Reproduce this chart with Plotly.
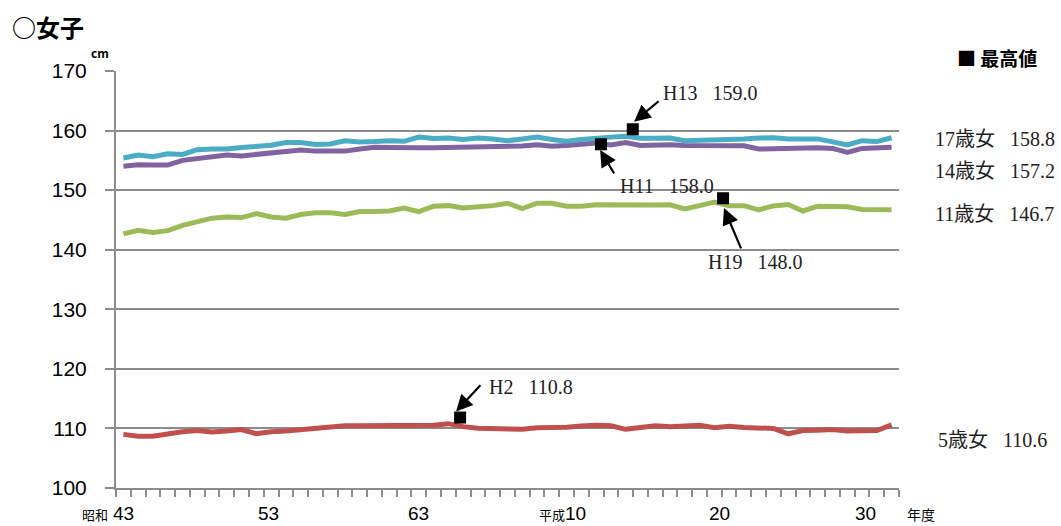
import plotly.graph_objects as go

years = list(range(1968, 2021))

h5 = [109.0, 108.7, 108.7, 109.15, 109.45, 109.65, 109.4, 109.55, 109.8, 109.1,
      109.45, 109.55, 109.8, 110.05, 110.35, 110.45, 110.45, 110.45, 110.35, 110.55,
      110.55, 110.55, 110.8, 110.3, 110.05, 110.0, 109.95, 109.85, 110.1, 110.1,
      110.2, 110.4, 110.55, 110.45, 109.85, 110.15, 110.45, 110.3, 110.4, 110.55,
      110.1, 110.35, 110.15, 110.15, 110.0, 109.1, 109.65, 109.7, 109.8, 109.55,
      109.7, 109.65, 110.6]
h11 = [142.65, 143.25, 142.9, 143.2, 144.1, 144.65, 145.3, 145.5, 145.4, 146.05,
       145.5, 145.3, 145.9, 146.2, 146.2, 145.9, 146.4, 146.4, 146.5, 147.0,
       146.4, 147.3, 147.4, 147.0, 147.1, 147.4, 147.8, 146.9, 147.8, 147.8,
       147.3, 147.3, 147.55, 147.5, 147.4, 147.45, 147.5, 147.55, 146.85, 147.4,
       148.0, 147.4, 147.4, 146.7, 147.35, 147.6, 146.5, 147.3, 147.2, 147.2,
       146.75, 146.7, 146.7]
h14 = [154.0, 154.25, 154.2, 154.2, 155.0, 155.25, 155.65, 155.9, 155.75, 156.0,
       156.4, 156.65, 156.75, 156.55, 156.65, 156.55, 156.9, 157.2, 157.15, 157.05,
       157.1, 157.1, 157.15, 157.2, 157.3, 157.3, 157.25, 157.4, 157.6, 157.35,
       157.5, 157.6, 157.9, 157.6, 158.0, 157.5, 157.6, 157.6, 157.5, 157.5,
       157.5, 157.6, 157.45, 156.9, 157.0, 156.95, 157.05, 157.1, 157.0, 156.35,
       157.0, 157.0, 157.2]
h17 = [155.4, 155.9, 155.6, 156.1, 156.0, 156.8, 156.9, 156.9, 157.15, 157.3,
       157.55, 158.0, 158.0, 157.65, 157.75, 158.3, 158.1, 158.15, 158.3, 158.2,
       158.9, 158.65, 158.75, 158.5, 158.75, 158.6, 158.3, 158.6, 158.9, 158.5,
       158.2, 158.5, 158.6, 158.9, 159.05, 158.7, 158.7, 158.75, 158.3, 158.35,
       158.35, 158.5, 158.6, 158.75, 158.8, 158.6, 158.65, 158.6, 158.1, 157.6,
       158.3, 158.15, 158.8]

series_names = ["5歳女", "11歳女", "14歳女", "17歳女"]
series_vals = [h5, h11, h14, h17]
series_colors = ["#C0504D", "#9BBB59", "#8064A2", "#4BACC6"]
latest_text = ["110.6", "146.7", "157.2", "158.8"]

# record-high markers (as drawn)
best_text = ["H13\u00a0\u00a0\u00a0159.0", "H11\u00a0\u00a0\u00a0158.0", "H19\u00a0\u00a0\u00a0148.0", "H2\u00a0\u00a0\u00a0110.8"]
best_x = [2002.48, 2000.33, 2008.59, 1990.79]
best_y = [160.22, 157.7, 148.64, 111.83]
arrow_tail_x = [2004.33, 2001.28, 2009.85, 1992.26]
arrow_tail_y = [165.13, 152.55, 139.97, 117.48]
arrow_head_x = [2002.57, 2000.27, 2008.65, 1990.52]
arrow_head_y = [161.49, 156.74, 147.0, 112.84]
label_x = [2004.4, 2001.49, 2007.43, 1992.6]
label_y = [166.3, 150.7, 137.95, 116.98]

xtick_years = [1968, 1978, 1988, 1998, 2008, 2018]
xtick_text = ["43", "53", "63", "10", "20", "30"]
xtick_shift = [0, -3, 0, 9, 5, 3]

W, H = 1061, 526
L, R, T, B = 116, 899, 71, 488


def px(x):
    return (x - L) / (R - L)


def py(y):
    return (B - y) / (B - T)


GRID = "#8C8C8C"
SERIF = "Liberation Serif, Noto Sans CJK JP"
SANS = "Liberation Sans, Noto Sans CJK JP"

fig = go.Figure()
for name, vals, col in zip(series_names, series_vals, series_colors):
    fig.add_trace(go.Scatter(x=years, y=vals, mode="lines", name=name,
                             line=dict(color=col, width=5), hoverinfo="skip"))

fig.add_trace(go.Scatter(x=best_x, y=best_y, mode="markers",
                         marker=dict(symbol="square", size=12, color="black"),
                         hoverinfo="skip"))

ann = []
for t, lx, ly in zip(best_text, label_x, label_y):
    ann.append(dict(x=lx, y=ly, xref="x", yref="y", text=t, showarrow=False,
                    xanchor="left", yanchor="middle",
                    font=dict(family=SERIF, size=20, color="#222")))
for tx, ty, hx, hy in zip(arrow_tail_x, arrow_tail_y, arrow_head_x, arrow_head_y):
    ann.append(dict(x=hx, y=hy, ax=tx, ay=ty, xref="x", yref="y", axref="x", ayref="y",
                    text="", showarrow=True, arrowhead=2, arrowsize=1.5,
                    arrowwidth=2.2, arrowcolor="black", standoff=0, startstandoff=0))

right_y = [440, 214, 170.7, 139]
right_x = [936, 933, 933, 933]
for name, v, yy, xx in zip(series_names, latest_text, right_y, right_x):
    ann.append(dict(x=px(xx), y=py(yy), xref="paper", yref="paper",
                    text=name + "\u00a0\u00a0\u00a0" + v, showarrow=False,
                    xanchor="left", yanchor="middle",
                    font=dict(family=SERIF, size=20, color="#222")))

for yv, t, sh in zip(xtick_years, xtick_text, xtick_shift):
    ann.append(dict(x=yv, y=py(513), xref="x", yref="paper", text=t, showarrow=False,
                    xanchor="center", yanchor="middle", xshift=sh,
                    font=dict(family=SANS, size=19, color="black")))

ann += [
    dict(x=px(110), y=py(514), xref="paper", yref="paper", text="昭和", showarrow=False,
         xanchor="right", yanchor="middle", font=dict(family="Noto Sans CJK JP", size=13, color="black")),
    dict(x=px(537), y=py(514), xref="paper", yref="paper", text="平成", showarrow=False,
         xanchor="left", yanchor="middle", font=dict(family="Noto Sans CJK JP", size=13, color="black")),
    dict(x=px(905), y=py(514), xref="paper", yref="paper", text="年度", showarrow=False,
         xanchor="left", yanchor="middle", font=dict(family="Noto Sans CJK JP", size=14, color="black")),
    dict(x=px(10), y=py(26), xref="paper", yref="paper", text="<b>○女子</b>", showarrow=False,
         xanchor="left", yanchor="middle", font=dict(family="Noto Sans CJK JP", size=24, color="black")),
    dict(x=px(100), y=py(52), xref="paper", yref="paper", text="<b>cm</b>", showarrow=False,
         xanchor="center", yanchor="middle", font=dict(family="Noto Sans CJK JP", size=12, color="black")),
    dict(x=px(955), y=py(58), xref="paper", yref="paper", text="<b>■ 最高値</b>", showarrow=False,
         xanchor="left", yanchor="middle", font=dict(family="Noto Sans CJK JP", size=19, color="black")),
]

bounds = [y - 0.5 for y in years] + [years[-1] + 0.5]

fig.update_layout(
    width=W, height=H, autosize=False,
    margin=dict(l=L, r=W - R, t=T, b=H - B, pad=0),
    paper_bgcolor="white", plot_bgcolor="white",
    showlegend=False,
    annotations=ann,
    xaxis=dict(range=[years[0] - 0.5, years[-1] + 0.5], tickvals=bounds,
               ticktext=[""] * len(bounds), ticks="outside", ticklen=7,
               tickwidth=2, tickcolor=GRID, showgrid=False, zeroline=False,
               showline=True, linecolor=GRID, linewidth=2),
    yaxis=dict(range=[100, 170], tickvals=[100, 110, 120, 130, 140, 150, 160, 170],
               ticks="outside", ticklen=9, tickwidth=2, tickcolor=GRID,
               showgrid=True, gridcolor=GRID, gridwidth=2, zeroline=False,
               showline=True, linecolor=GRID, linewidth=2,
               ticklabelstandoff=14,
               tickfont=dict(family=SANS, size=21, color="black")),
)

fig.write_html("out.html", config={"displayModeBar": False},
               post_script="document.body.style.margin='0px';document.body.style.overflow='hidden';")
